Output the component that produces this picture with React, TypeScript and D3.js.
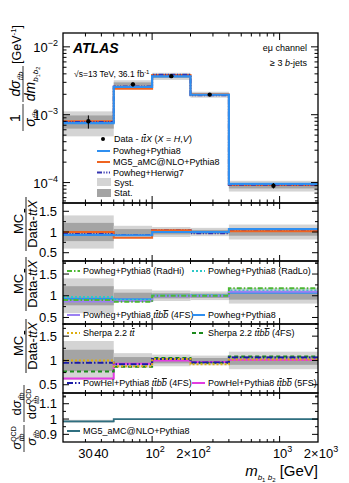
import React from 'react';
import * as d3 from 'd3';

// bins of m_b1b2 [GeV]
const binEdges = [20, 50, 100, 200, 400, 2000];

// unfolded data, normalised cross-section [GeV^-1]
const dataXs = [8.0e-4, 2.8e-3, 3.7e-3, 1.98e-3, 9.0e-5];
const statRel = [0.22, 0.07, 0.06, 0.05, 0.09];
const systRel = [0.4, 0.15, 0.12, 0.1, 0.18];

// predictions in the top panel
const xsPowhegPythia8 = [7.5e-4, 2.56e-3, 3.68e-3, 1.97e-3, 9.6e-5];
const xsMG5Pythia8 = [8.0e-4, 2.42e-3, 3.84e-3, 1.98e-3, 9.2e-5];
const xsPowhegHerwig7 = [7.8e-4, 2.6e-3, 3.88e-3, 1.93e-3, 9.3e-5];

// ratio panel 1
const r1PowhegPythia8 = [0.93, 0.92, 1.0, 1.0, 1.07];
const r1MG5Pythia8 = [1.0, 0.86, 1.04, 1.0, 1.02];
const r1PowhegHerwig7 = [0.96, 0.93, 1.05, 0.97, 1.03];

// ratio panel 2
const r2RadHi = [0.9, 0.86, 1.0, 1.0, 1.17];
const r2RadLo = [0.97, 0.9, 1.0, 1.02, 1.12];
const r2PowhegTtbb4FS = [0.87, 0.88, 0.99, 1.0, 1.09];
const r2PowhegPythia8 = [0.93, 0.92, 1.0, 1.0, 1.07];

// ratio panel 3
const r3SherpaTt = [1.0, 0.88, 1.03, 0.92, 1.02];
const r3SherpaTtbb4FS = [0.77, 0.87, 1.05, 0.95, 1.08];
const r3PowHel4FS = [0.95, 0.92, 1.03, 0.96, 1.06];
const r3PowHel5FS = [0.63, 0.93, 1.0, 0.97, 1.01];

// bottom panel
const r4MG5Qcd = [0.985, 1.0, 1.0, 1.0, 1.0];
const r4Unc = [0.01, 0.002, 0.002, 0.002, 0.002];

const xMajorTicks = [100, 1000];
const xMinorTicks = [30, 40, 50, 60, 70, 80, 90, 200, 300, 400, 500, 600, 700, 800, 900];

const FONT = '"Liberation Sans", Arial, Helvetica, sans-serif';
const L = 63;
const R = 318;

const C = {
  blue: '#2f8ff0',
  orange: '#ef6420',
  herwig: '#3434b0',
  radHi: '#4cb832',
  radLo: '#2ec8c8',
  purple: '#9b80f2',
  sherpaTt: '#dcae10',
  sherpaTtbb: '#1c8a1c',
  powhel4: '#1a1aa6',
  powhel5: '#e23ce2',
  teal: '#2f6f80',
  syst: '#d4d4d4',
  stat: '#a4a4a4',
};

const x = d3.scaleLog().domain([20, 2000]).range([L, R]);

type Series = { vals: number[]; color: string; dash?: string; width?: number };

function stepPath(vals: number[], y: (v: number) => number) {
  return d3
    .line<number>()
    .x((e) => x(e))
    .y((_, i) => y(vals[Math.min(i, vals.length - 1)]))
    .curve(d3.curveStepAfter)(binEdges) as string;
}

function Tt() {
  return (
    <>
      <tspan fontStyle="italic">t</tspan>
      <tspan fontStyle="italic" style={{ textDecoration: 'overline' }}>t</tspan>
    </>
  );
}

function Bb() {
  return (
    <>
      <tspan fontStyle="italic">b</tspan>
      <tspan fontStyle="italic" style={{ textDecoration: 'overline' }}>b</tspan>
    </>
  );
}

function Frame({ top, bot, y, yMajor, yMinor, labels, tickLen = 7 }: any) {
  const ticks: any[] = [];
  xMajorTicks.forEach((t) => {
    ticks.push(<line key={'xt' + t} x1={x(t)} x2={x(t)} y1={top} y2={top + tickLen} />);
    ticks.push(<line key={'xb' + t} x1={x(t)} x2={x(t)} y1={bot} y2={bot - tickLen} />);
  });
  xMinorTicks.forEach((t) => {
    ticks.push(<line key={'mt' + t} x1={x(t)} x2={x(t)} y1={top} y2={top + tickLen / 2} />);
    ticks.push(<line key={'mb' + t} x1={x(t)} x2={x(t)} y1={bot} y2={bot - tickLen / 2} />);
  });
  yMajor.forEach((t: number) => {
    ticks.push(<line key={'yl' + t} x1={L} x2={L + tickLen} y1={y(t)} y2={y(t)} />);
    ticks.push(<line key={'yr' + t} x1={R} x2={R - tickLen} y1={y(t)} y2={y(t)} />);
  });
  yMinor.forEach((t: number) => {
    ticks.push(<line key={'ml' + t} x1={L} x2={L + tickLen / 2} y1={y(t)} y2={y(t)} />);
    ticks.push(<line key={'mr' + t} x1={R} x2={R - tickLen / 2} y1={y(t)} y2={y(t)} />);
  });
  return (
    <g>
      <g stroke="#000" strokeWidth={1}>{ticks}</g>
      <rect x={L} y={top} width={R - L} height={bot - top} fill="none" stroke="#000" strokeWidth={1.3} />
      {labels}
    </g>
  );
}

function RatioPanel({ id, top, bot, dom, series, yMajor, yMinor }: any) {
  const y = d3.scaleLinear().domain(dom).range([bot, top]);
  return (
    <g>
      <clipPath id={id}>
        <rect x={L} y={top} width={R - L} height={bot - top} />
      </clipPath>
      <g clipPath={`url(#${id})`}>
        {binEdges.slice(0, -1).map((e, i) => (
          <g key={i}>
            <rect x={x(e)} width={x(binEdges[i + 1]) - x(e)} y={y(1 + systRel[i])} height={y(1 - systRel[i]) - y(1 + systRel[i])} fill={C.syst} />
            <rect x={x(e)} width={x(binEdges[i + 1]) - x(e)} y={y(1 + statRel[i])} height={y(1 - statRel[i]) - y(1 + statRel[i])} fill={C.stat} />
          </g>
        ))}
        {series.map((s: Series, i: number) => (
          <path key={i} d={stepPath(s.vals, y)} fill="none" stroke={s.color} strokeWidth={s.width || 2} strokeDasharray={s.dash} />
        ))}
      </g>
      <Frame
        top={top}
        bot={bot}
        y={y}
        yMajor={yMajor}
        yMinor={yMinor}
        tickLen={6}
        labels={yMajor.map((t: number) => (
          <text key={t} x={57} y={y(t) + 4.5} textAnchor="end" fontSize={13}>
            {String(t)}
          </text>
        ))}
      />
    </g>
  );
}

function RatioTitle({ cy }: { cy: number }) {
  return (
    <g transform={`translate(26,${cy}) rotate(-90)`} fontSize={13}>
      <text x={0} y={-3} textAnchor="middle">MC</text>
      <line x1={-27} x2={27} y1={0} y2={0} stroke="#000" strokeWidth={0.9} />
      <text x={0} y={11} textAnchor="middle">
        Data-<Tt /><tspan fontStyle="italic">X</tspan>
      </text>
    </g>
  );
}

function LegendLine({ x0, y0, s, label }: any) {
  return (
    <g>
      <line x1={x0} x2={x0 + 13} y1={y0 - 3} y2={y0 - 3} stroke={s.color} strokeWidth={2} strokeDasharray={s.dash} />
      <text x={x0 + 16} y={y0} fontSize={9}>{label}</text>
    </g>
  );
}

export default function App() {
  const mainTop = 33;
  const mainBot = 203;
  const yMain = d3.scaleLog().domain([5e-5, 1.6e-2]).range([mainBot, mainTop]);
  const mainMinor: number[] = [];
  [-5, -4, -3, -2].forEach((p) => {
    for (let k = 2; k <= 9; k++) {
      const v = k * Math.pow(10, p);
      if (v > 5e-5 && v < 1.6e-2) mainMinor.push(v);
    }
  });

  const h7dash = '5,1.5,1.2,1.5,1.2,1.5';
  const mainSeries: Series[] = [
    { vals: xsMG5Pythia8, color: C.orange },
    { vals: xsPowhegHerwig7, color: C.herwig, dash: h7dash },
    { vals: xsPowhegPythia8, color: C.blue, width: 2.2 },
  ];

  const s = {
    pp8: { vals: r1PowhegPythia8, color: C.blue },
    mg5: { vals: r1MG5Pythia8, color: C.orange },
    h7: { vals: r1PowhegHerwig7, color: C.herwig, dash: h7dash },
    radHi: { vals: r2RadHi, color: C.radHi, dash: '5,2,1.5,2' },
    radLo: { vals: r2RadLo, color: C.radLo, dash: '2,2' },
    ttbb4: { vals: r2PowhegTtbb4FS, color: C.purple },
    pp8b: { vals: r2PowhegPythia8, color: C.blue },
    shTt: { vals: r3SherpaTt, color: C.sherpaTt, dash: '2,2' },
    shTtbb: { vals: r3SherpaTtbb4FS, color: C.sherpaTtbb, dash: '4,3' },
    ph4: { vals: r3PowHel4FS, color: C.powhel4, dash: '6,2,1.5,2' },
    ph5: { vals: r3PowHel5FS, color: C.powhel5 },
    qcd: { vals: r4MG5Qcd, color: C.teal },
  };

  const pow = (p: string) => (
    <>
      10<tspan fontSize={9} dy={-6}>{p}</tspan>
    </>
  );

  const ratioMajor = [0.5, 1, 1.5];
  const ratioMinor = [0.25, 0.75, 1.25, 1.75];

  const y4 = d3.scaleLinear().domain([0.85, 1.17]).range([442, 393]);

  return (
    <svg width={349} height={483} style={{ position: 'absolute', left: 0, top: 0, background: '#fff' }} fontFamily={FONT}>
      <rect x={0} y={0} width={349} height={483} fill="#fff" />

      {/* main panel */}
      <clipPath id="clipMain">
        <rect x={L} y={mainTop} width={R - L} height={mainBot - mainTop} />
      </clipPath>
      <g clipPath="url(#clipMain)">
        {binEdges.slice(0, -1).map((e, i) => (
          <g key={i}>
            <rect x={x(e)} width={x(binEdges[i + 1]) - x(e)} y={yMain(dataXs[i] * (1 + systRel[i]))} height={yMain(dataXs[i] * (1 - systRel[i])) - yMain(dataXs[i] * (1 + systRel[i]))} fill={C.syst} />
            <rect x={x(e)} width={x(binEdges[i + 1]) - x(e)} y={yMain(dataXs[i] * (1 + statRel[i]))} height={yMain(dataXs[i] * (1 - statRel[i])) - yMain(dataXs[i] * (1 + statRel[i]))} fill={C.stat} />
          </g>
        ))}
        {mainSeries.map((m, i) => (
          <path key={i} d={stepPath(m.vals, yMain)} fill="none" stroke={m.color} strokeWidth={m.width || 2} strokeDasharray={m.dash} />
        ))}
        {dataXs.map((v, i) => {
          const cx = x(Math.sqrt(binEdges[i] * binEdges[i + 1]));
          return (
            <g key={i}>
              <line x1={cx} x2={cx} y1={yMain(v * (1 + statRel[i]))} y2={yMain(v * (1 - statRel[i]))} stroke="#000" strokeWidth={1} />
              <circle cx={cx} cy={yMain(v)} r={2.2} fill="#000" />
            </g>
          );
        })}
      </g>
      <Frame
        top={mainTop}
        bot={mainBot}
        y={yMain}
        yMajor={[1e-4, 1e-3, 1e-2]}
        yMinor={mainMinor}
        labels={[
          <text key="a" x={58} y={yMain(1e-2) + 5} textAnchor="end" fontSize={13}>{pow('−2')}</text>,
          <text key="b" x={58} y={yMain(1e-3) + 5} textAnchor="end" fontSize={13}>{pow('−3')}</text>,
          <text key="c" x={58} y={yMain(1e-4) + 5} textAnchor="end" fontSize={13}>{pow('−4')}</text>,
        ]}
      />

      {/* main labels */}
      <text x={73} y={53} fontSize={14} fontWeight="bold" fontStyle="italic">ATLAS</text>
      <text x={74} y={77} fontSize={8.5}>
        √s=13 TeV, 36.1 fb<tspan fontSize={6} dy={-3.5}>-1</tspan>
      </text>
      <text x={307} y={51} fontSize={9} textAnchor="end">eμ channel</text>
      <text x={307} y={66} fontSize={9} textAnchor="end">
        ≥ 3 <tspan fontStyle="italic">b</tspan>-jets
      </text>

      {/* main legend */}
      <g fontSize={9}>
        <circle cx={103} cy={139} r={2} fill="#000" />
        <text x={114} y={142}>
          Data - <Tt /><tspan fontStyle="italic">X</tspan> (<tspan fontStyle="italic">X</tspan> = <tspan fontStyle="italic">H</tspan>,<tspan fontStyle="italic">V</tspan>)
        </text>
        <LegendLine x0={97} y0={154} s={{ color: C.blue }} label="Powheg+Pythia8" />
        <LegendLine x0={97} y0={165} s={{ color: C.orange }} label="MG5_aMC@NLO+Pythia8" />
        <LegendLine x0={97} y0={175.5} s={{ color: C.herwig, dash: h7dash }} label="Powheg+Herwig7" />
        <rect x={97} y={178} width={14} height={8} fill={C.syst} />
        <text x={114} y={185.5}>Syst.</text>
        <rect x={97} y={189} width={14} height={8} fill={C.stat} />
        <text x={114} y={196}>Stat.</text>
      </g>

      {/* main y title */}
      <g transform="translate(23,80) rotate(-90)" fontSize={14}>
        <text x={-38} y={-3} textAnchor="middle">1</text>
        <line x1={-51} x2={-24} y1={0} y2={0} stroke="#000" strokeWidth={0.8} />
        <text x={-38} y={12} textAnchor="middle">
          <tspan fontStyle="italic">σ</tspan>
          <tspan fontSize={8} dy={3} fontStyle="italic">tt̄b</tspan>
        </text>
        <text x={-4} y={-3} textAnchor="middle">
          <tspan fontStyle="italic">dσ</tspan>
          <tspan fontSize={8} dy={3} fontStyle="italic">tt̄b</tspan>
        </text>
        <line x1={-22} x2={14} y1={0} y2={0} stroke="#000" strokeWidth={0.8} />
        <text x={-4} y={12} textAnchor="middle">
          <tspan fontStyle="italic">dm</tspan>
          <tspan fontSize={8} dy={3} fontStyle="italic">b</tspan>
          <tspan fontSize={5.5} dy={1.5}>1</tspan>
          <tspan fontSize={8} dy={-1.5} fontStyle="italic">b</tspan>
          <tspan fontSize={5.5} dy={1.5}>2</tspan>
        </text>
        <text x={16} y={-2} fontSize={12.5}>
          [GeV<tspan fontSize={8} dy={-5}>-1</tspan><tspan dy={5}>]</tspan>
        </text>
      </g>

      {/* ratio panel 1 */}
      <RatioPanel id="r1" top={203} bot={261} dom={[0.3, 1.7]} series={[s.h7, s.mg5, s.pp8]} yMajor={ratioMajor} yMinor={ratioMinor} />
      <RatioTitle cy={224} />

      {/* ratio panel 2 */}
      <RatioPanel id="r2" top={261} bot={324} dom={[0.35, 1.8]} series={[s.pp8b, s.radLo, s.ttbb4, s.radHi]} yMajor={ratioMajor} yMinor={ratioMinor} />
      <RatioTitle cy={284} />
      <g fontSize={9}>
        <LegendLine x0={67} y0={274} s={s.radHi} label="Powheg+Pythia8 (RadHi)" />
        <LegendLine x0={192} y0={274} s={s.radLo} label="Powheg+Pythia8 (RadLo)" />
        <g>
          <line x1={67} x2={80} y1={315} y2={315} stroke={C.purple} strokeWidth={2} />
          <text x={83} y={318}>Powheg+Pythia8 <Tt /><Bb /> (4FS)</text>
        </g>
        <LegendLine x0={192} y0={318} s={s.pp8b} label="Powheg+Pythia8" />
      </g>

      {/* ratio panel 3 */}
      <RatioPanel id="r3" top={324} bot={393} dom={[0.33, 1.75]} series={[s.ph5, s.shTtbb, s.ph4, s.shTt]} yMajor={ratioMajor} yMinor={ratioMinor} />
      <RatioTitle cy={346} />
      <g fontSize={9}>
        <g>
          <line x1={67} x2={80} y1={333} y2={333} stroke={C.sherpaTt} strokeWidth={2} strokeDasharray="2,2" />
          <text x={83} y={336}>Sherpa 2.2 <Tt /></text>
        </g>
        <g>
          <line x1={192} x2={205} y1={333} y2={333} stroke={C.sherpaTtbb} strokeWidth={2} strokeDasharray="4,3" />
          <text x={208} y={336}>Sherpa 2.2 <Tt /><Bb /> (4FS)</text>
        </g>
        <g>
          <line x1={67} x2={80} y1={383} y2={383} stroke={C.powhel4} strokeWidth={2} strokeDasharray="6,2,1.5,2" />
          <text x={83} y={386}>PowHel+Pythia8 <Tt /><Bb /> (4FS)</text>
        </g>
        <g>
          <line x1={192} x2={205} y1={383} y2={383} stroke={C.powhel5} strokeWidth={2} />
          <text x={208} y={386}>PowHel+Pythia8 <Tt /><Bb /> (5FS)</text>
        </g>
      </g>

      {/* bottom panel */}
      <clipPath id="r4">
        <rect x={L} y={393} width={R - L} height={49} />
      </clipPath>
      <g clipPath="url(#r4)">
        {binEdges.slice(0, -1).map((e, i) => (
          <rect key={i} x={x(e)} width={x(binEdges[i + 1]) - x(e)} y={y4(r4MG5Qcd[i] + r4Unc[i])} height={y4(r4MG5Qcd[i] - r4Unc[i]) - y4(r4MG5Qcd[i] + r4Unc[i])} fill={C.syst} />
        ))}
        <path d={stepPath(s.qcd.vals, y4)} fill="none" stroke={C.teal} strokeWidth={1.8} />
      </g>
      <Frame
        top={393}
        bot={442}
        y={y4}
        yMajor={[0.9, 1, 1.1]}
        yMinor={[0.95, 1.05, 1.15]}
        tickLen={6}
        labels={[0.9, 1, 1.1].map((t) => (
          <text key={t} x={57} y={y4(t) + 4.5} textAnchor="end" fontSize={13}>{String(t)}</text>
        ))}
      />
      <g fontSize={9}>
        <LegendLine x0={67} y0={434} s={s.qcd} label="MG5_aMC@NLO+Pythia8" />
      </g>
      <g transform="translate(24,419) rotate(-90)" fontSize={13}>
        <text x={-19} y={-3} textAnchor="middle">
          <tspan fontStyle="italic">σ</tspan>
          <tspan fontSize={7} dy={-5}>QCD</tspan>
          <tspan fontSize={7} dx={-15} dy={8} fontStyle="italic">tt̄b</tspan>
        </text>
        <line x1={-33} x2={-6} y1={0} y2={0} stroke="#000" strokeWidth={0.8} />
        <text x={-19} y={12} textAnchor="middle">
          <tspan fontStyle="italic">σ</tspan>
          <tspan fontSize={7} dy={3} fontStyle="italic">tt̄b</tspan>
        </text>
        <text x={15} y={-3} textAnchor="middle">
          <tspan>d</tspan><tspan fontStyle="italic">σ</tspan>
          <tspan fontSize={7} dy={3} fontStyle="italic">tt̄b</tspan>
        </text>
        <line x1={-3} x2={34} y1={0} y2={0} stroke="#000" strokeWidth={0.8} />
        <text x={15} y={12} textAnchor="middle">
          <tspan>d</tspan><tspan fontStyle="italic">σ</tspan>
          <tspan fontSize={7} dy={-5}>QCD</tspan>
          <tspan fontSize={7} dx={-15} dy={8} fontStyle="italic">tt̄b</tspan>
        </text>
      </g>

      {/* x tick labels */}
      <g fontSize={13} textAnchor="middle">
        <text x={x(30)} y={458}>30</text>
        <text x={x(40)} y={458}>40</text>
        <text x={x(100) + 3} y={458}>10<tspan fontSize={9} dy={-6}>2</tspan></text>
        <text x={x(200) + 3} y={458}>2×10<tspan fontSize={9} dy={-6}>2</tspan></text>
        <text x={x(1000) + 3} y={458}>10<tspan fontSize={9} dy={-6}>3</tspan></text>
        <text x={x(2000) + 3} y={458}>2×10<tspan fontSize={9} dy={-6}>3</tspan></text>
      </g>
      <text x={318} y={476} fontSize={15} textAnchor="end">
        <tspan fontStyle="italic">m</tspan>
        <tspan fontSize={8} dy={4} fontStyle="italic">b</tspan>
        <tspan fontSize={6} dy={2}>1</tspan>
        <tspan fontSize={8} dy={-2} fontStyle="italic"> b</tspan>
        <tspan fontSize={6} dy={2}>2</tspan>
        <tspan dy={-6}> [GeV]</tspan>
      </text>
    </svg>
  );
}
